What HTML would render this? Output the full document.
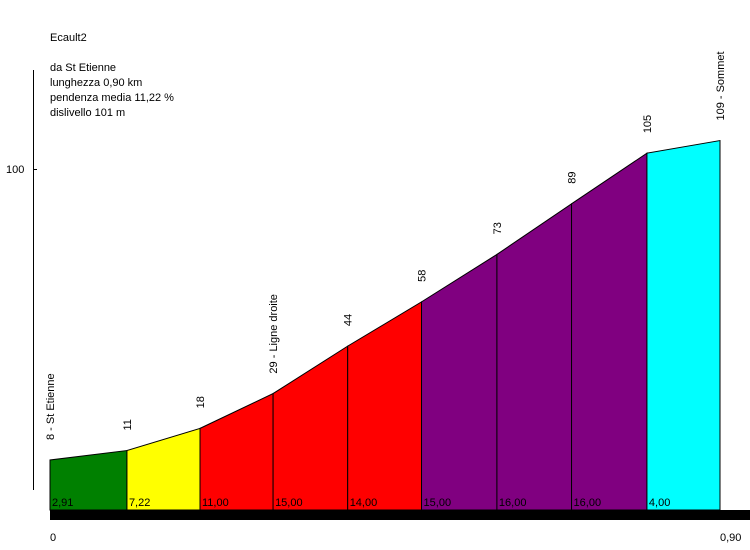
<!DOCTYPE html>
<html><head><meta charset="utf-8"><style>
body{margin:0;background:#fff}
svg{display:block;font-family:"Liberation Sans",sans-serif;font-size:11px}
</style></head><body>
<svg id="c" width="750" height="550">
<g>
<text x="50" y="41">Ecault2</text>
<text x="50" y="71">da St Etienne</text>
<text x="50" y="86">lunghezza 0,90 km</text>
<text x="50" y="101">pendenza media 11,22 %</text>
<text x="50" y="116">dislivello 101 m</text>
</g>
<line x1="33.5" y1="70" x2="33.5" y2="490" stroke="#000"/>
<line x1="33" y1="169.5" x2="37" y2="169.5" stroke="#000"/>
<text x="6" y="173">100</text>
<g id="segs"></g>
<rect x="50" y="510" width="700" height="10" fill="#000"/>
<text x="50" y="541">0</text>
<text x="720" y="541">0,90</text>
</svg>
<script>
const distances=[0,0.099,0.193,0.287,0.383,0.478,0.575,0.671,0.768,0.862];
const elevations=[8,11,18,29,44,58,73,89,105,109];
const pointNames=["8 - St Etienne","11","18","29 - Ligne droite","44","58","73","89","105","109 - Sommet"];
const slopes=["2,91","7,22","11,00","15,00","14,00","15,00","16,00","16,00","4,00"];
const colors=["#008000","#ffff00","#ff0000","#ff0000","#ff0000","#800080","#800080","#800080","#00ffff"];
const xs=d=>50+d*(670/0.862);
const ys=e=>169+(100-e)*3.163;
const NS="http://www.w3.org/2000/svg";
const g=document.getElementById('segs');
for(let i=0;i<slopes.length;i++){
  const x0=xs(distances[i]),x1=xs(distances[i+1]);
  const p=document.createElementNS(NS,'polygon');
  p.setAttribute('points',`${x0},510 ${x0},${ys(elevations[i])} ${x1},${ys(elevations[i+1])} ${x1},510`);
  p.setAttribute('fill',colors[i]);p.setAttribute('stroke','#000');p.setAttribute('stroke-width','1');
  
  
  g.appendChild(p);
  const t=document.createElementNS(NS,'text');
  t.setAttribute('x',x0+2);t.setAttribute('y',506);t.textContent=slopes[i];
  
  
  g.appendChild(t);
}
for(let i=0;i<elevations.length;i++){
  const x=xs(distances[i]),y=ys(elevations[i])-20;
  const t=document.createElementNS(NS,'text');
  t.setAttribute('transform',`translate(${x+4},${y}) rotate(-90)`);
  t.textContent=pointNames[i];
  
  
  g.appendChild(t);
}
</script>
</body></html>
